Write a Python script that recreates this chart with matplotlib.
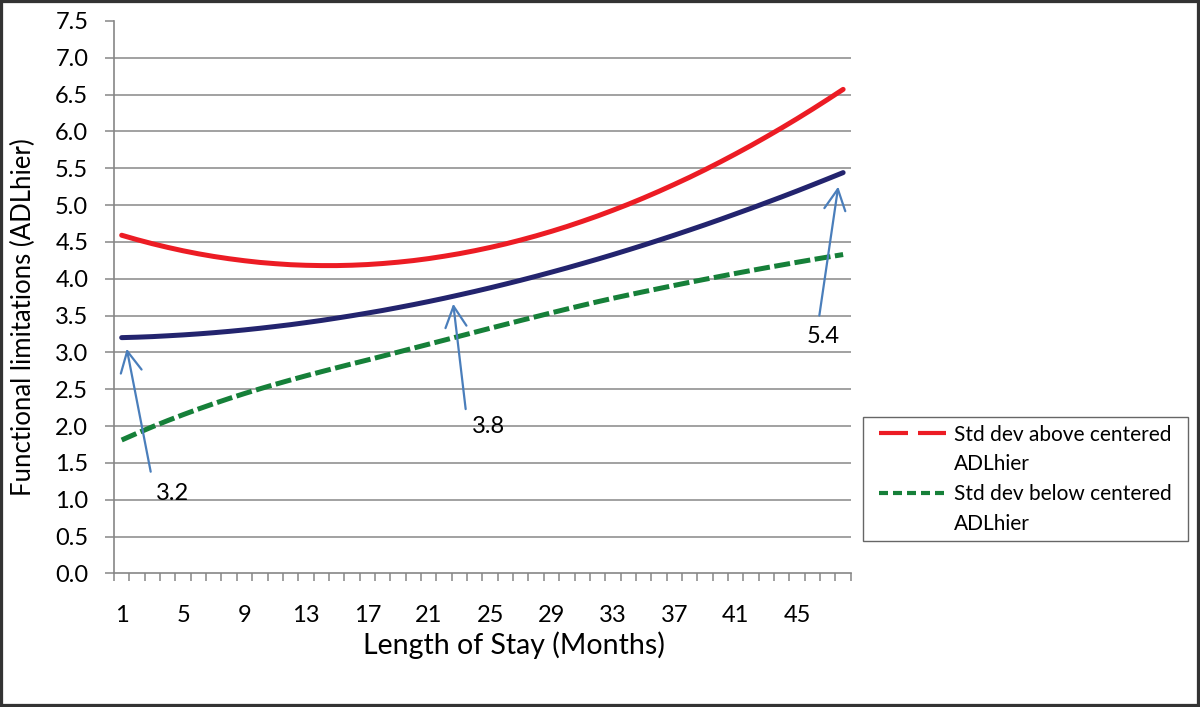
import matplotlib
matplotlib.use("Agg")
import matplotlib.pyplot as plt
from matplotlib.lines import Line2D
from matplotlib.patches import Rectangle
from matplotlib.ticker import FixedLocator, FuncFormatter

plt.rcParams['font.family'] = ['Lato', 'DejaVu Sans']

# Length of stay, months 1..48
months = list(range(1, 49))
tick_months = [1, 5, 9, 13, 17, 21, 25, 29, 33, 37, 41, 45]

# above: 1 SD above centered ADLhier
above_sd = [4.590, 4.530, 4.475, 4.425, 4.379, 4.338, 4.302, 4.271, 4.244, 4.221,
            4.204, 4.190, 4.182, 4.178, 4.178, 4.183, 4.192, 4.206, 4.224, 4.246,
            4.273, 4.305, 4.340, 4.380, 4.424, 4.472, 4.525, 4.582, 4.643, 4.708,
            4.778, 4.851, 4.929, 5.010, 5.096, 5.186, 5.280, 5.377, 5.479, 5.585,
            5.695, 5.808, 5.926, 6.047, 6.172, 6.301, 6.434, 6.570]
# mean ADLhier
mean_adl = [3.200, 3.206, 3.214, 3.225, 3.237, 3.251, 3.267, 3.285, 3.305, 3.327,
            3.351, 3.376, 3.404, 3.433, 3.465, 3.498, 3.533, 3.569, 3.608, 3.648,
            3.690, 3.734, 3.780, 3.827, 3.876, 3.927, 3.979, 4.033, 4.089, 4.146,
            4.205, 4.265, 4.327, 4.391, 4.456, 4.523, 4.591, 4.661, 4.732, 4.805,
            4.880, 4.955, 5.033, 5.111, 5.191, 5.273, 5.356, 5.440]
# below: 1 SD below centered ADLhier
below_sd = [1.810, 1.902, 1.990, 2.074, 2.154, 2.231, 2.304, 2.374, 2.441, 2.505,
            2.566, 2.625, 2.682, 2.737, 2.791, 2.844, 2.896, 2.949, 3.003, 3.057,
            3.111, 3.165, 3.219, 3.273, 3.327, 3.380, 3.433, 3.485, 3.537, 3.588,
            3.638, 3.687, 3.734, 3.779, 3.823, 3.866, 3.909, 3.951, 3.992, 4.032,
            4.072, 4.111, 4.149, 4.186, 4.223, 4.259, 4.294, 4.328]

callout_labels = ["3.2", "3.8", "5.4"]
legend_labels = ['Std dev above centered', 'ADLhier', 'Std dev below centered', 'ADLhier']

fig = plt.figure(figsize=(12, 7.07), dpi=100)
ax = fig.add_axes([0.095, 0.189, 0.614, 0.7815])

red = '#ec1c24'
navy = '#23246e'
green = '#168039'
arrow_blue = '#4a7ebb'

ax.plot(months, above_sd, color=red, lw=3.6, solid_capstyle='round', zorder=3)
ax.plot(months, mean_adl, color=navy, lw=3.6, solid_capstyle='round', zorder=3)
ax.plot(months, below_sd, color=green, lw=3.6, dashes=(3.2, 0.9), zorder=3)

ax.set_xlim(0.5, 48.5)
ax.set_ylim(0, 7.5)
ax.set_yticks([i * 0.5 for i in range(16)])
ax.yaxis.set_major_formatter(FuncFormatter(lambda v, p: '%.1f' % v))
ax.set_xticks(tick_months)
ax.xaxis.set_minor_locator(FixedLocator([m - 0.5 for m in months] + [48.5]))
ax.tick_params(axis='x', which='major', length=0, pad=23, labelsize=17)
ax.tick_params(axis='x', which='minor', length=6, width=1.1, color='#868686', direction='out')
ax.tick_params(axis='y', which='major', length=6.5, width=1.1, color='#868686', pad=12, labelsize=17)

for spine in ['top', 'right']:
    ax.spines[spine].set_visible(False)
for spine in ['left', 'bottom']:
    ax.spines[spine].set_color('#868686')
    ax.spines[spine].set_linewidth(1.2)

for v in [i * 0.5 for i in range(1, 15)]:
    ax.axhline(v, color='#888888', lw=1.1, zorder=1)

ax.set_xlabel('Length of Stay (Months)', fontsize=20.5)
ax.xaxis.set_label_coords(0.543, -0.105)
ax.set_ylabel('Functional limitations (ADLhier)', fontsize=18.5)
ax.yaxis.set_label_coords(-0.106, 0.463)

arrows = [((2.89, 1.38), (1.33, 3.05), (3.21, 1.08)),
          ((23.41, 2.23), (22.6, 3.66), (23.8, 2.0)),
          ((46.45, 3.50), (47.68, 5.25), (45.65, 3.21))]
for (tail, head, lab), txt in zip(arrows, callout_labels):
    ax.annotate('', xy=head, xytext=tail,
                arrowprops=dict(arrowstyle='->,head_length=0.75,head_width=0.38',
                                color=arrow_blue, lw=1.6, mutation_scale=20,
                                shrinkA=0, shrinkB=0), zorder=4)
    ax.text(lab[0], lab[1], txt, fontsize=17, ha='left', va='center', zorder=4)

# legend keys as drawn in the source (long dash / short dash), px * 0.24 -> lw units
red_key = Line2D([], [], color=red, lw=3,
                 linestyle=(16.32, (6.96, 2.4, 6.96, 1.92)))
green_key = Line2D([], [], color=green, lw=3,
                   linestyle=(15.6, (2.16, 1.2, 2.16, 1.2, 2.16, 1.2, 2.16, 1.2, 2.16, 1.92)))
blank = Line2D([], [], color='none')
leg_top = 1 - 417 / 707
leg = fig.legend([red_key, blank, green_key, blank], legend_labels, loc='upper left',
                 bbox_to_anchor=(863 / 1200, leg_top - 0.01, 325 / 1200, 0.01),
                 mode='expand', borderaxespad=0, fontsize=15.0, frameon=True,
                 fancybox=False, edgecolor='#404040', handlelength=3.62,
                 handletextpad=0.38, labelspacing=0.47, borderpad=0.36)
leg.get_frame().set_linewidth(1.0)

fig.patches.append(Rectangle((0, 0), 1, 1, transform=fig.transFigure, fill=False,
                             edgecolor='#333333', lw=4.5))

fig.savefig('out.png', dpi=100)
